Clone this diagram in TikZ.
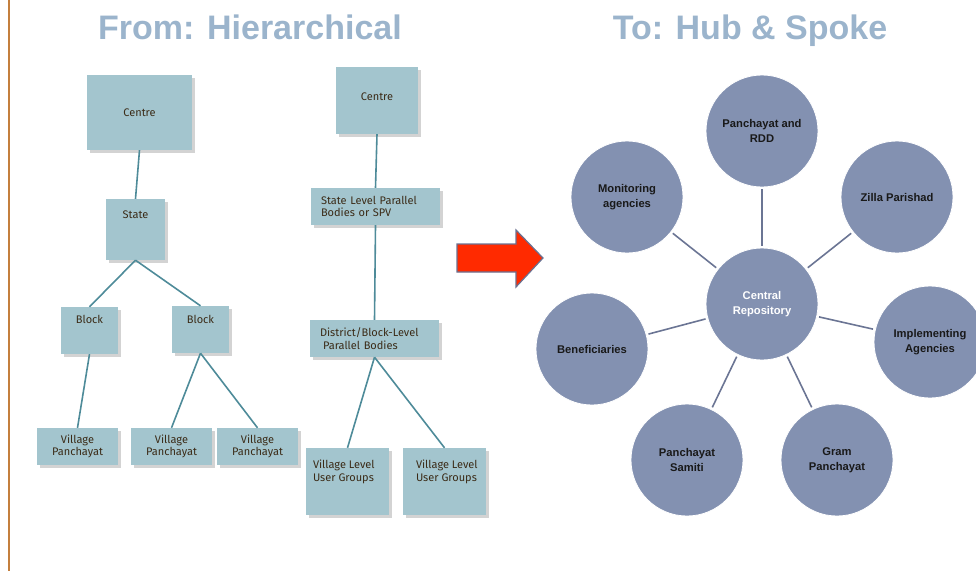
\documentclass[tikz,border=0pt]{standalone}
\usepackage{fontspec}
\setmainfont{Liberation Sans}
\newfontfamily\boxfont{Fira Sans}
\usetikzlibrary{shadows}

\definecolor{rim}{HTML}{C47F3E}
\definecolor{headblue}{HTML}{9BB4CC}
\definecolor{boxfill}{HTML}{A3C5CE}
\definecolor{boxtext}{HTML}{3B2B17}
\definecolor{treeline}{HTML}{4E8B99}
\definecolor{hubfill}{HTML}{8391B1}
\definecolor{spokeline}{HTML}{6B7594}
\definecolor{arrowred}{HTML}{FF2A00}
\definecolor{arrowrim}{HTML}{6A7090}

\tikzset{
  heading/.style={anchor=base, text=headblue, font=\fontsize{34}{40}\selectfont\bfseries},
  box/.style={rectangle, fill=boxfill, inner sep=0pt, text=boxtext, align=center,
    font=\boxfont\fontsize{11}{12.5}\selectfont,
    drop shadow={shadow xshift=2.5pt, shadow yshift=-2.5pt, opacity=0.35}},
  boxtxt/.style={inner sep=0pt, text=boxtext, font=\boxfont\fontsize{11}{12.5}\selectfont},
  treelink/.style={draw=treeline, line width=1.6pt},
  hub/.style={circle, fill=hubfill, draw=white, line width=0.8pt, minimum size=112pt,
    inner sep=0pt, align=center, text=black!90, font=\fontsize{11.2}{15}\selectfont\bfseries},
  spoke/.style={draw=spokeline, line width=1.6pt, shorten <=2pt, shorten >=2pt},
}

\begin{document}
\begin{tikzpicture}[x=1pt,y=-1pt]
\useasboundingbox (0,0) rectangle (976,571);
\draw[rim, line width=2pt] (9,0) -- (9,571);

% headings
\node[heading] (from) at (250,39) {From: Hierarchical};
\node[heading] (to) at (750,39) {To: Hub \& Spoke};

% first tree
\node[box, minimum width=105pt, minimum height=75pt] (c1) at (139.5,112.5) {Centre};
\node[box, minimum width=59pt, minimum height=61pt] (st) at (135.5,229.5) {};
\node[boxtxt] (st-t) at ([yshift=-16pt]st.north) {State};
\node[box, minimum width=57pt, minimum height=47pt] (b1) at (89.5,330.5) {};
\node[boxtxt] (b1-t) at ([yshift=-13pt]b1.north) {Block};
\node[box, minimum width=57pt, minimum height=47pt] (b2) at (200.5,329.5) {};
\node[boxtxt] (b2-t) at ([yshift=-14pt]b2.north) {Block};
\node[box, minimum width=81pt, minimum height=37pt] (vp1) at (77.5,446.5) {Village\\Panchayat};
\node[box, minimum width=81pt, minimum height=37pt] (vp2) at (171.5,446.5) {Village\\Panchayat};
\node[box, minimum width=81pt, minimum height=37pt] (vp3) at (257.5,446.5) {Village\\Panchayat};
\draw[treelink] (c1.south) -- (st.north);
\draw[treelink] (st.south) -- (b1.north);
\draw[treelink] (st.south) -- (b2.north);
\draw[treelink] (b1.south) -- (vp1.north);
\draw[treelink] (b2.south) -- (vp2.north);
\draw[treelink] (b2.south) -- (vp3.north);

% second tree
\node[box, minimum width=82pt, minimum height=67pt] (c2) at (377,100.5) {};
\node[boxtxt] (c2-t) at ([yshift=-30pt]c2.north) {Centre};
\node[box, minimum width=129pt, minimum height=37pt, text width=109pt, align=left] (sl) at (375.5,206.5) {State Level Parallel\\Bodies or SPV};
\node[box, minimum width=129pt, minimum height=37pt, text width=109pt, align=left] (db) at (374.5,338.5) {District/Block-Level\\\hspace*{3pt}Parallel Bodies};
\node[box, minimum width=83pt, minimum height=67pt] (ug1) at (347.5,481.5) {};
\node[boxtxt, anchor=north west, align=left] (ug1-t) at ([xshift=7pt,yshift=-12pt]ug1.north west) {Village Level\\User Groups};
\node[box, minimum width=83pt, minimum height=67pt] (ug2) at (444.5,481.5) {};
\node[boxtxt, anchor=north west, align=left] (ug2-t) at ([xshift=13pt,yshift=-12pt]ug2.north west) {Village Level\\User Groups};
\draw[treelink] (c2.south) -- (sl.north);
\draw[treelink] (sl.south) -- (db.north);
\draw[treelink] (db.south) -- (ug1.north);
\draw[treelink] (db.south) -- (ug2.north);

% arrow
\draw[fill=arrowred, draw=arrowrim, line width=1.2pt, line join=miter]
  (457,244) -- (516,244) -- (516,230) -- (543,258) -- (516,287) -- (516,272) -- (457,272) -- cycle;

% hub and spokes
\node[hub, text=white] (core) at (762,304) {Central\\Repository};
\node[hub] (rdd) at (762,131) {Panchayat and\\RDD};
\node[hub] (mon) at (627,197) {Monitoring\\agencies};
\node[hub] (zp) at (897,197) {Zilla Parishad};
\node[hub] (ben) at (592,349) {Beneficiaries};
\node[hub] (imp) at (930,342) {Implementing\\Agencies};
\node[hub] (ps) at (687,460) {Panchayat\\Samiti};
\node[hub] (gp) at (837,460) {Gram\\Panchayat};
\draw[spoke] (core) -- (rdd);
\draw[spoke] (core) -- (mon);
\draw[spoke] (core) -- (zp);
\draw[spoke] (core) -- (ben);
\draw[spoke] (core) -- (imp);
\draw[spoke] (core) -- (ps);
\draw[spoke] (core) -- (gp);
\end{tikzpicture}
\end{document}
